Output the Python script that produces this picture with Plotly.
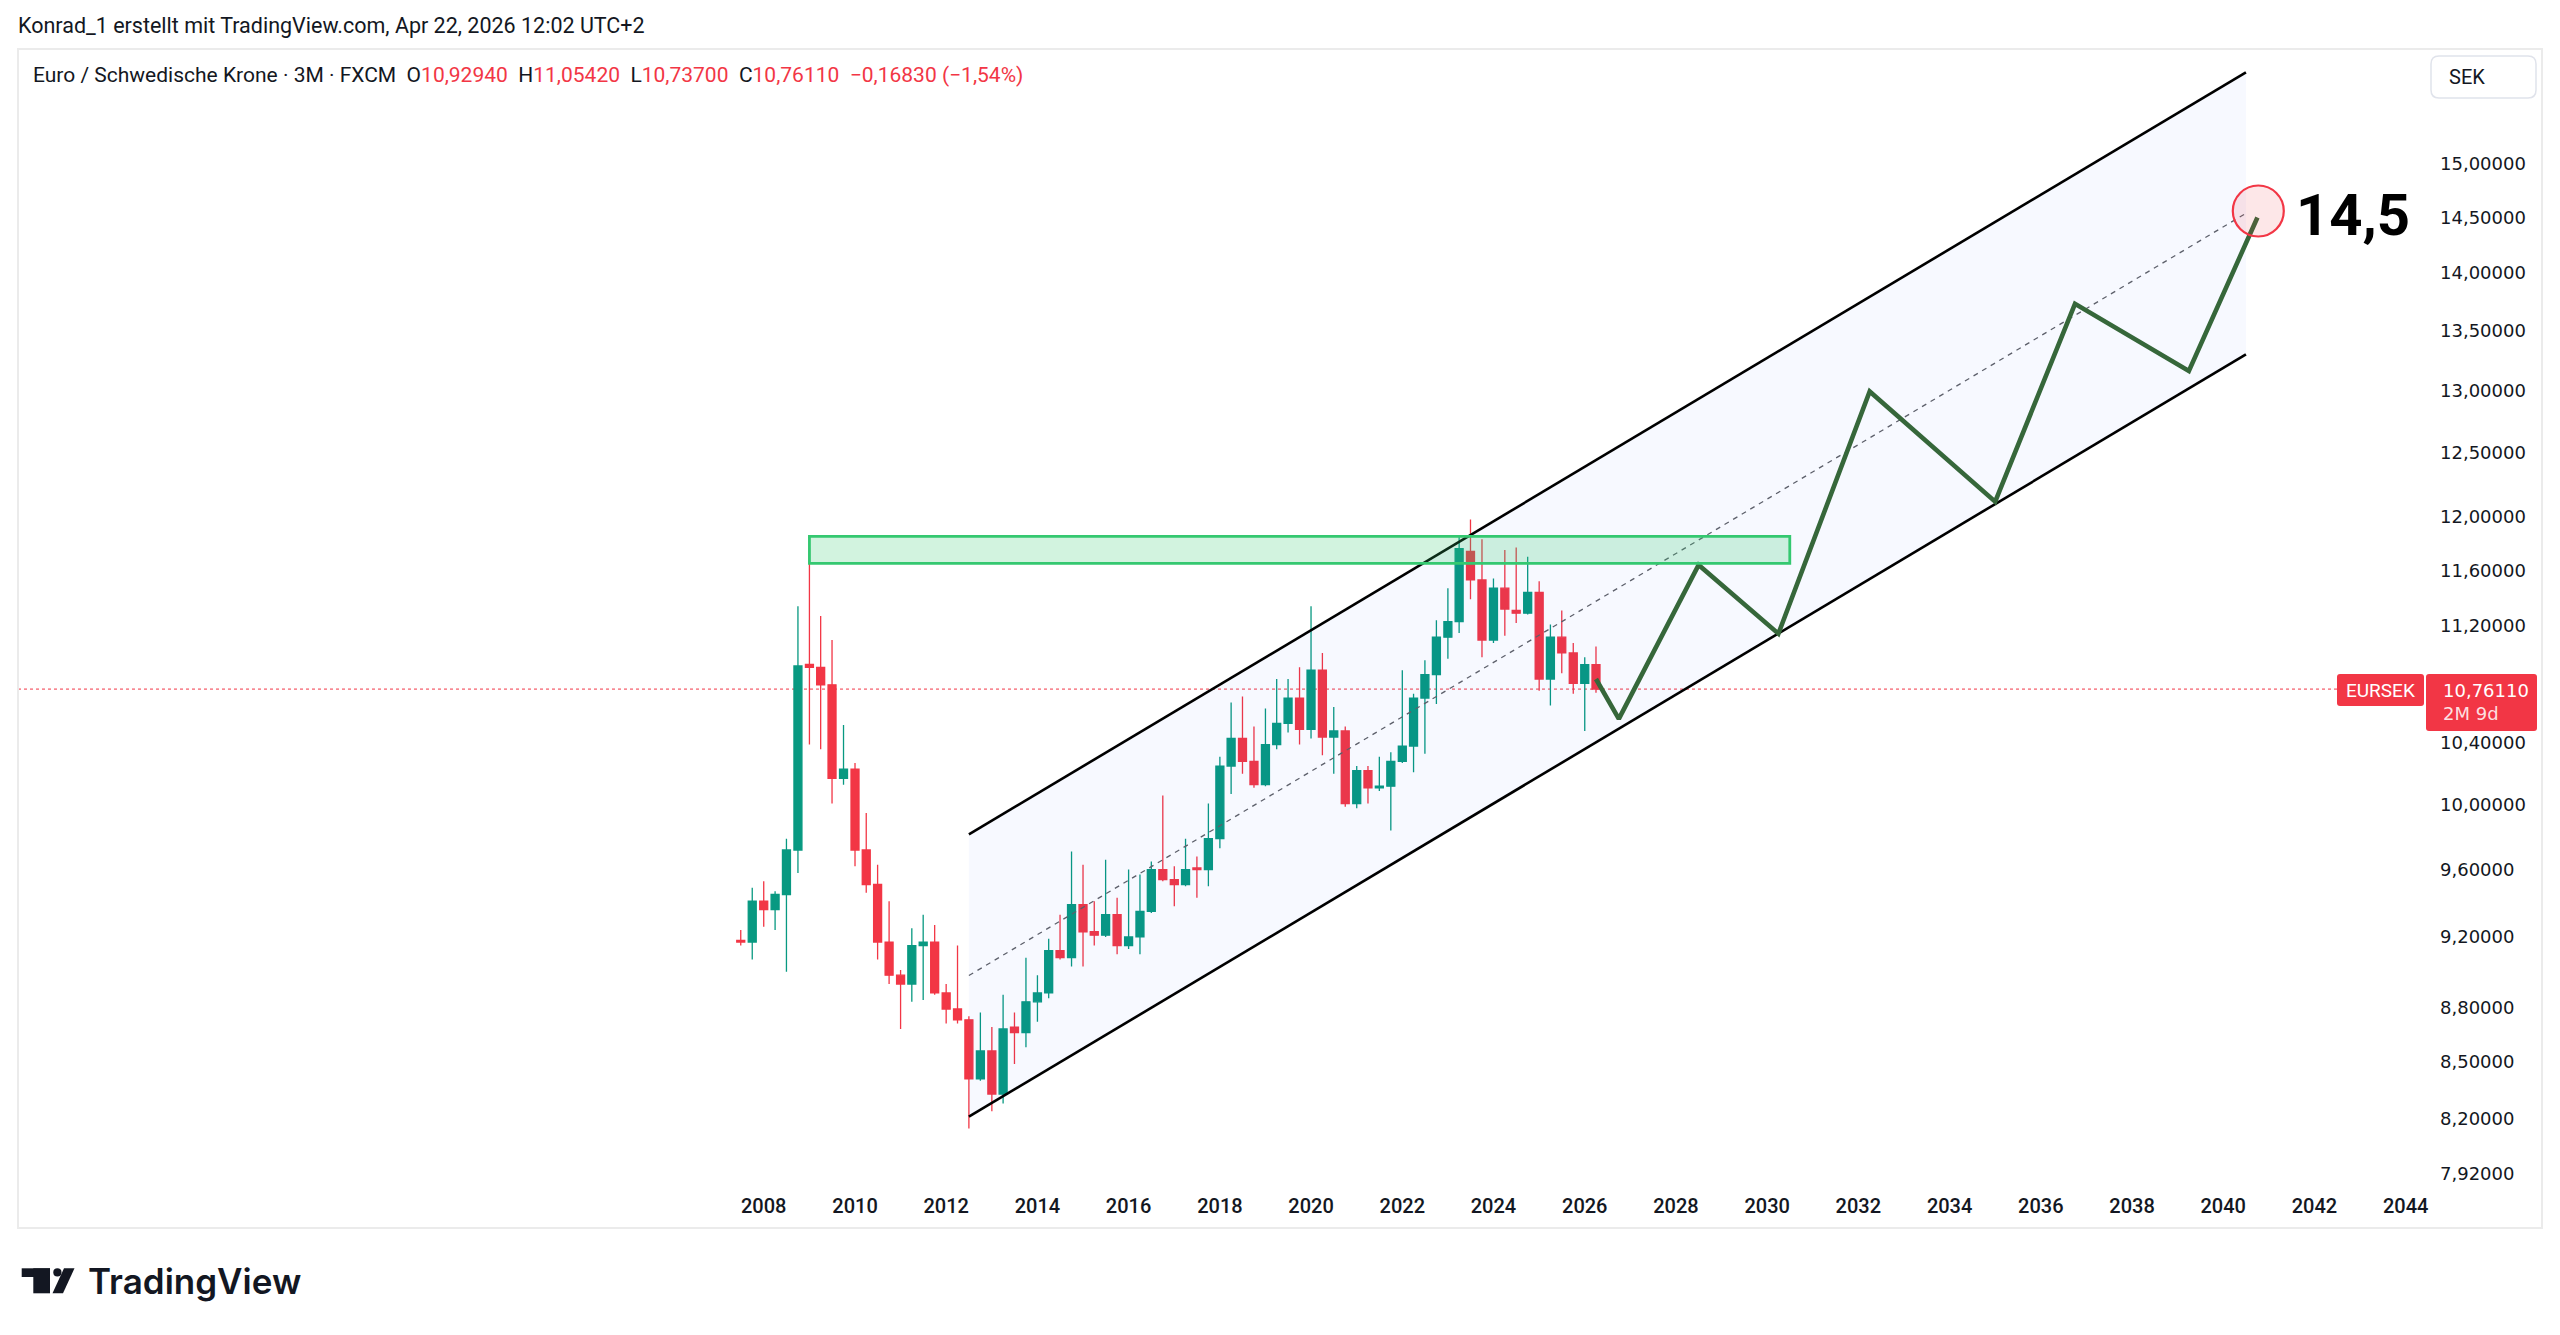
import math
import pandas as pd
import plotly.graph_objects as go

# ---------------- data ----------------
quarters = pd.date_range("2007-07-01", periods=76, freq="QS")

opens = [9.18, 9.17, 9.41, 9.36, 9.45, 9.72, 10.93, 10.91, 10.79, 10.17,
         10.23, 9.72, 9.51, 9.17, 8.98, 8.93, 9.15, 9.17, 8.88, 8.79,
         8.73, 8.41, 8.56, 8.33, 8.69, 8.66, 8.83, 8.88, 9.12, 9.08,
         9.39, 9.23, 9.21, 9.33, 9.15, 9.20, 9.35, 9.60, 9.54, 9.51,
         9.61, 9.60, 9.79, 10.25, 10.43, 10.28, 10.13, 10.39, 10.53, 10.70,
         10.49, 10.89, 10.44, 10.48, 10.01, 10.22, 10.11, 10.12, 10.28, 10.38,
         10.70, 10.86, 11.12, 11.23, 11.74, 11.53, 11.10, 11.47, 11.31, 11.29,
         11.44, 10.83, 11.12, 11.01, 10.80, 10.9294]
highs = [9.24, 9.49, 9.53, 9.47, 9.79, 11.34, 11.77, 11.27, 11.10, 10.52,
         10.27, 9.95, 9.63, 9.41, 9.01, 9.25, 9.33, 9.27, 8.93, 9.15,
         8.75, 8.77, 8.69, 8.87, 8.77, 9.08, 8.98, 9.19, 9.33, 9.71,
         9.63, 9.41, 9.66, 9.43, 9.60, 9.57, 9.65, 10.06, 9.62, 9.79,
         9.68, 10.01, 10.31, 10.67, 10.71, 10.51, 10.63, 10.83, 10.83, 10.91,
         11.34, 11.01, 10.64, 10.51, 10.25, 10.25, 10.31, 10.34, 10.89, 10.73,
         10.96, 11.24, 11.47, 11.86, 11.98, 11.83, 11.54, 11.75, 11.77, 11.70,
         11.52, 11.21, 11.31, 11.08, 10.98, 11.0542]
lows = [9.15, 9.07, 9.26, 9.24, 9.00, 9.58, 10.39, 10.36, 10.01, 10.13,
        9.62, 9.46, 9.07, 8.93, 8.68, 8.83, 8.84, 8.87, 8.71, 8.71,
        8.15, 8.40, 8.24, 8.28, 8.49, 8.58, 8.72, 8.85, 9.07, 9.03,
        9.03, 9.15, 9.20, 9.10, 9.13, 9.10, 9.34, 9.53, 9.38, 9.50,
        9.43, 9.50, 9.73, 10.07, 10.20, 10.11, 10.12, 10.36, 10.47, 10.39,
        10.43, 10.32, 10.20, 9.99, 9.98, 10.01, 10.09, 9.84, 10.27, 10.21,
        10.33, 10.66, 10.97, 11.15, 11.39, 10.98, 11.08, 11.13, 11.22, 11.28,
        10.75, 10.65, 10.87, 10.73, 10.48, 10.737]
closes = [9.17, 9.41, 9.36, 9.45, 9.72, 10.92, 10.91, 10.79, 10.17, 10.23,
          9.72, 9.51, 9.17, 8.98, 8.93, 9.15, 9.17, 8.88, 8.79, 8.73,
          8.41, 8.56, 8.33, 8.68, 8.66, 8.83, 8.88, 9.12, 9.08, 9.39,
          9.23, 9.21, 9.33, 9.15, 9.20, 9.35, 9.60, 9.54, 9.51, 9.60,
          9.60, 9.79, 10.25, 10.43, 10.28, 10.13, 10.39, 10.53, 10.70, 10.49,
          10.89, 10.44, 10.48, 10.01, 10.22, 10.11, 10.12, 10.28, 10.38, 10.70,
          10.86, 11.12, 11.23, 11.76, 11.53, 11.10, 11.47, 11.32, 11.29, 11.44,
          10.83, 11.12, 11.01, 10.80, 10.929, 10.7611]

year_ticks = list(range(2008, 2046, 2))
price_ticks = [15.0, 14.5, 14.0, 13.5, 13.0, 12.5, 12.0, 11.6, 11.2,
               10.4, 10.0, 9.6, 9.2, 8.8, 8.5, 8.2, 7.92]
price_tick_labels = [f"{v:.5f}".replace(".", ",") for v in price_ticks]

symbol = "EURSEK"
last_price = 10.7611
last_price_text = "10,76110"
countdown_text = "2M 9d"
header_title = "Euro / Schwedische Krone · 3M · FXCM"
header_ohlc = [("O", "10,92940"), ("H", "11,05420"), ("L", "10,73700"), ("C", "10,76110")]
header_change = "−0,16830 (−1,54%)"
credit_text = "Konrad_1 erstellt mit TradingView.com, Apr 22, 2026 12:02 UTC+2"
currency_text = "SEK"

channel_dates = ["2012-07-01", "2040-07-01"]
channel_upper = [9.8165, 15.895]
channel_lower = [8.2114, 13.298]
channel_mid = [8.978, 14.539]

zone_dates = ["2009-01-01", "2030-07-01"]
zone_prices = [11.652, 11.852]

path_dates = ["2026-04-01", "2026-10-01", "2028-07-01", "2030-04-01", "2032-04-01",
              "2035-01-01", "2036-10-01", "2039-04-01", "2040-10-01"]
path_prices = [10.83, 10.56, 11.64, 11.145, 12.99, 12.115, 13.73, 13.16, 14.50]

target_date = "2040-10-08"
target_price = 14.56
target_label = "14,5"

x_range = ["1991-08-26", "2044-06-04"]
y_range = [7.899, 16.131]

# ---------------- layout helpers (pixel <-> paper) ----------------
W, H = 2560, 1335
PL, PR, PT, PB = 18, 2425, 49, 1178


def pxx(x):
    return (x - PL) / (PR - PL)


def pxy(y):
    return (PB - y) / (PB - PT)


_t0 = pd.Timestamp(x_range[0]).value
_t1 = pd.Timestamp(x_range[1]).value


def date_px(d):
    return PL + (pd.Timestamp(d).value - _t0) / (_t1 - _t0) * (PR - PL)


def price_px(p):
    lo, hi = math.log10(y_range[0]), math.log10(y_range[1])
    return PT + (hi - math.log10(p)) / (hi - lo) * (PB - PT)


def rrect(x0, y0, x1, y1, r):
    pts = [
        f"M {pxx(x0 + r)} {pxy(y0)}",
        f"L {pxx(x1 - r)} {pxy(y0)}",
        f"Q {pxx(x1)} {pxy(y0)} {pxx(x1)} {pxy(y0 + r)}",
        f"L {pxx(x1)} {pxy(y1 - r)}",
        f"Q {pxx(x1)} {pxy(y1)} {pxx(x1 - r)} {pxy(y1)}",
        f"L {pxx(x0 + r)} {pxy(y1)}",
        f"Q {pxx(x0)} {pxy(y1)} {pxx(x0)} {pxy(y1 - r)}",
        f"L {pxx(x0)} {pxy(y0 + r)}",
        f"Q {pxx(x0)} {pxy(y0)} {pxx(x0 + r)} {pxy(y0)}",
        "Z",
    ]
    return " ".join(pts)


GREEN = "#089981"
RED = "#f23645"
TEXT = "#131722"

fig = go.Figure()

# channel background
fig.add_trace(go.Scatter(
    x=[channel_dates[0], channel_dates[1], channel_dates[1], channel_dates[0]],
    y=[channel_upper[0], channel_upper[1], channel_lower[1], channel_lower[0]],
    fill="toself", fillcolor="rgba(41,98,255,0.035)", mode="lines",
    line=dict(width=0), hoverinfo="skip", showlegend=False))

# candles
fig.add_trace(go.Candlestick(
    x=quarters, open=opens, high=highs, low=lows, close=closes,
    increasing=dict(line=dict(color=GREEN, width=1.3), fillcolor=GREEN),
    decreasing=dict(line=dict(color=RED, width=1.3), fillcolor=RED),
    whiskerwidth=0, hoverinfo="skip", showlegend=False))

# channel lines
fig.add_trace(go.Scatter(x=channel_dates, y=channel_mid, mode="lines",
                         line=dict(color="#5d606b", width=1.3, dash="5px,5px"),
                         hoverinfo="skip", showlegend=False))
for ys in (channel_upper, channel_lower):
    fig.add_trace(go.Scatter(x=channel_dates, y=ys, mode="lines",
                             line=dict(color="#000000", width=2.6),
                             hoverinfo="skip", showlegend=False))

# projected path
fig.add_trace(go.Scatter(x=path_dates, y=path_prices, mode="lines",
                         line=dict(color="#36673a", width=4.6),
                         hoverinfo="skip", showlegend=False))

shapes = []
# resistance zone
shapes.append(dict(type="rect", xref="x", yref="y", x0=zone_dates[0], x1=zone_dates[1],
                   y0=zone_prices[0], y1=zone_prices[1],
                   line=dict(color="#34c870", width=2.8),
                   fillcolor="rgba(50,200,110,0.22)", layer="above"))
# last price line
lp_y = price_px(last_price)
shapes.append(dict(type="line", xref="paper", yref="paper", x0=0, x1=pxx(2337),
                   y0=pxy(lp_y), y1=pxy(lp_y),
                   line=dict(color=RED, width=1, dash="dot"), layer="below"))
# target circle
cx, cy, cr = date_px(target_date), price_px(target_price), 25.5
shapes.append(dict(type="circle", xref="paper", yref="paper",
                   x0=pxx(cx - cr), x1=pxx(cx + cr), y0=pxy(cy + cr), y1=pxy(cy - cr),
                   line=dict(color=RED, width=2.2),
                   fillcolor="rgba(242,54,69,0.12)", layer="above"))
# symbol label + price label
shapes.append(dict(type="path", xref="paper", yref="paper",
                   path=rrect(2337, lp_y - 15, 2424, lp_y + 17, 3),
                   line=dict(width=0), fillcolor=RED, layer="above"))
shapes.append(dict(type="path", xref="paper", yref="paper",
                   path=rrect(2426, lp_y - 15, 2537, lp_y + 42, 3),
                   line=dict(width=0), fillcolor=RED, layer="above"))
# frame
shapes.append(dict(type="rect", xref="paper", yref="paper",
                   x0=pxx(18), x1=pxx(2542), y0=pxy(1228), y1=pxy(49),
                   line=dict(color="#ebebeb", width=2), fillcolor="rgba(0,0,0,0)", layer="below"))
# currency button
shapes.append(dict(type="path", xref="paper", yref="paper",
                   path=rrect(2431, 56, 2536, 98, 8),
                   line=dict(color="#e0e3eb", width=1.5), fillcolor="white"))
# TradingView logo
logo_color = "#131722"
shapes.append(dict(type="rect", xref="paper", yref="paper",
                   x0=pxx(21.7), x1=pxx(50), y0=pxy(1277), y1=pxy(1268.3),
                   line=dict(width=0), fillcolor=logo_color))
shapes.append(dict(type="rect", xref="paper", yref="paper",
                   x0=pxx(33.3), x1=pxx(50), y0=pxy(1293.3), y1=pxy(1268.3),
                   line=dict(width=0), fillcolor=logo_color))
shapes.append(dict(type="circle", xref="paper", yref="paper",
                   x0=pxx(53.3), x1=pxx(61.5), y0=pxy(1276.5), y1=pxy(1268.3),
                   line=dict(width=0), fillcolor=logo_color))
shapes.append(dict(type="path", xref="paper", yref="paper",
                   path=(f"M {pxx(64)} {pxy(1268.3)} L {pxx(74.5)} {pxy(1268.3)} "
                         f"L {pxx(63)} {pxy(1293.3)} L {pxx(52.5)} {pxy(1293.3)} Z"),
                   line=dict(width=0), fillcolor=logo_color))

annotations = []
annotations.append(dict(xref="paper", yref="paper", x=pxx(16), y=pxy(26),
                        xanchor="left", yanchor="middle", showarrow=False,
                        text=credit_text, font=dict(family="Roboto", size=21.5, color=TEXT)))
hdr = header_title
for k, v in header_ohlc:
    hdr += f"\u00a0\u00a0{k}<span style='color:{RED}'>{v}</span>"
hdr += f"\u00a0\u00a0<span style='color:{RED}'>{header_change}</span>"
annotations.append(dict(xref="paper", yref="paper", x=pxx(31), y=pxy(75),
                        xanchor="left", yanchor="middle", showarrow=False,
                        text=hdr, font=dict(family="Roboto", size=21, color=TEXT)))
annotations.append(dict(xref="paper", yref="paper", x=pxx(2294), y=pxy(215),
                        xanchor="left", yanchor="middle", showarrow=False,
                        text=target_label,
                        font=dict(family="Roboto", size=58, color="#000000", weight="bold")))
annotations.append(dict(xref="paper", yref="paper", x=pxx(2380.5), y=pxy(lp_y + 1),
                        xanchor="center", yanchor="middle", showarrow=False,
                        text=symbol, font=dict(family="Roboto", size=19, color="white")))
annotations.append(dict(xref="paper", yref="paper", x=pxx(2441), y=pxy(lp_y + 1),
                        xanchor="left", yanchor="middle", showarrow=False,
                        text=last_price_text, font=dict(family="DejaVu Sans", size=18, color="white")))
annotations.append(dict(xref="paper", yref="paper", x=pxx(2441), y=pxy(lp_y + 24),
                        xanchor="left", yanchor="middle", showarrow=False,
                        text=countdown_text,
                        font=dict(family="DejaVu Sans", size=18, color="rgba(255,255,255,0.85)")))
annotations.append(dict(xref="paper", yref="paper", x=pxx(2447), y=pxy(77),
                        xanchor="left", yanchor="middle", showarrow=False,
                        text=currency_text, font=dict(family="Roboto", size=20, color=TEXT)))
annotations.append(dict(xref="paper", yref="paper", x=pxx(86), y=pxy(1281),
                        xanchor="left", yanchor="middle", showarrow=False,
                        text="TradingView",
                        font=dict(family="Inter", size=35, color=logo_color, weight=600)))

fig.update_layout(
    width=W, height=H,
    margin=dict(l=PL, r=W - PR, t=PT, b=H - PB, pad=0),
    paper_bgcolor="white", plot_bgcolor="white",
    showlegend=False, hovermode=False,
    boxgap=0.29, boxgroupgap=0,
    shapes=shapes, annotations=annotations,
    xaxis=dict(type="date", range=x_range, rangeslider=dict(visible=False),
               tickvals=[f"{y}-01-01" for y in year_ticks], ticktext=[str(y) for y in year_ticks],
               showgrid=False, zeroline=False, showline=False, ticks="",
               ticklabelstandoff=14,
               tickfont=dict(family="Roboto", size=20, color=TEXT, weight=500)),
    yaxis=dict(type="log", side="right", range=[math.log10(y_range[0]), math.log10(y_range[1])],
               tickvals=price_ticks, ticktext=price_tick_labels,
               showgrid=False, zeroline=False, showline=False, ticks="",
               ticklabelstandoff=14,
               tickfont=dict(family="DejaVu Sans", size=18, color=TEXT)),
)

fig.write_html("out.html", config={"displayModeBar": False})
